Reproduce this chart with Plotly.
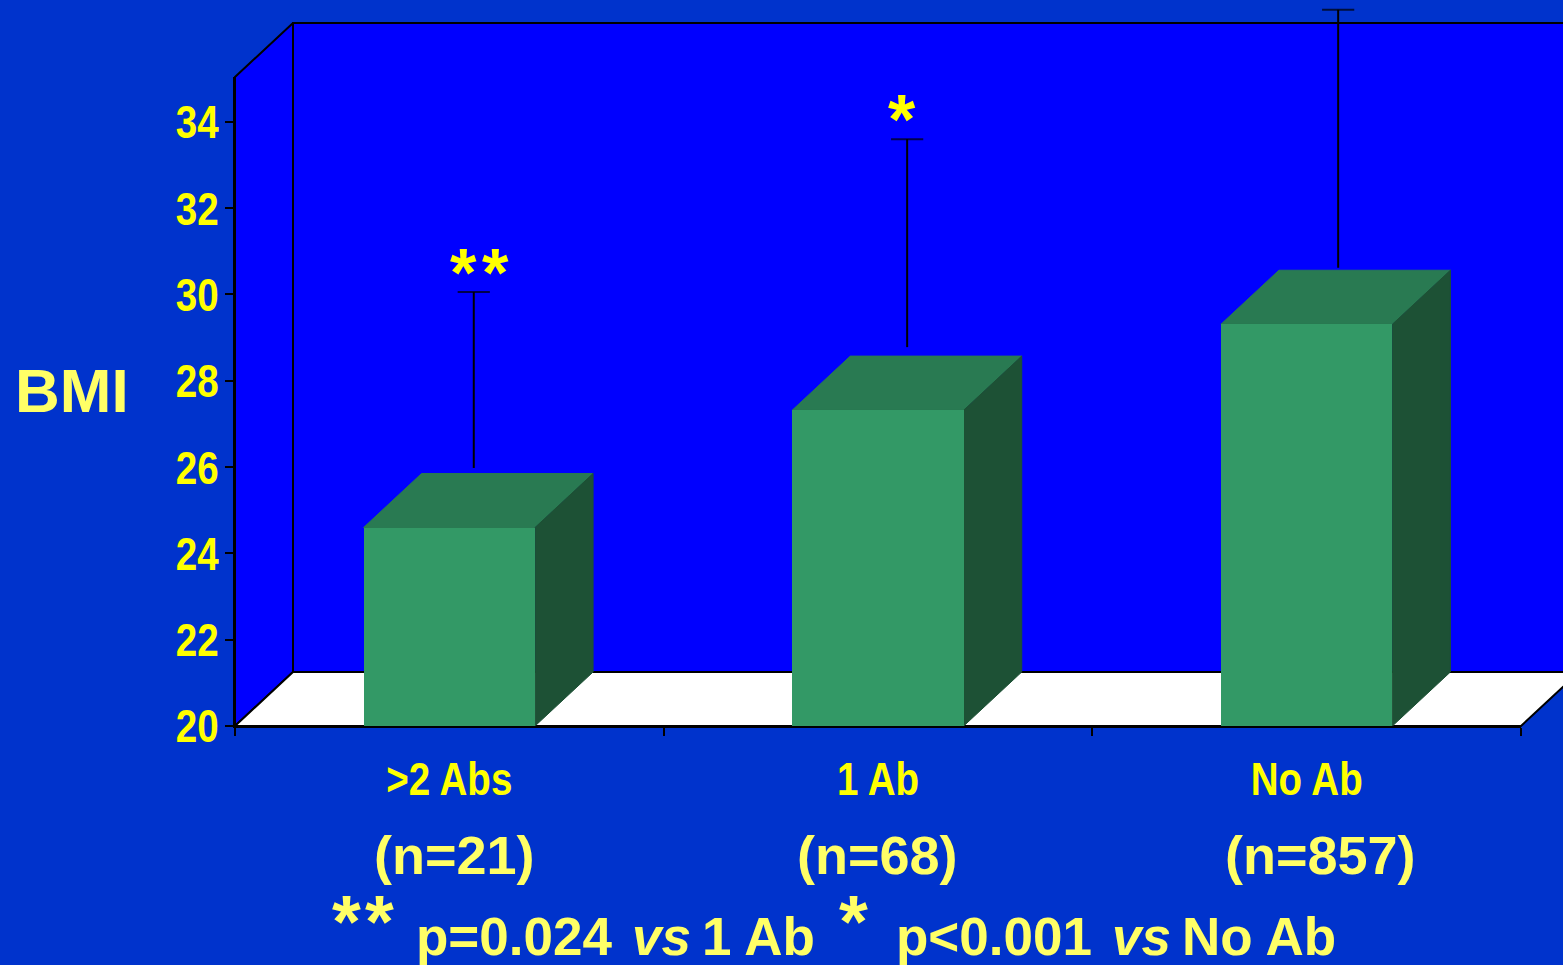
import plotly.graph_objects as go

W, H = 1563, 965

# Data
categories = [">2 Abs", "1 Ab", "No Ab"]
group_sizes = ["(n=21)", "(n=68)", "(n=857)"]
bmi_values = [24.6, 27.32, 29.31]
whisker_x = [0.057, 1.068, 2.0735]
whisker_bottom = [25.98, 28.78, 30.62]
whisker_top = [30.06, 33.6, 36.6]
y_ticks = [20, 22, 24, 26, 28, 30, 32, 34]

# Style / geometry
Y_MIN, Y_MAX = 20, 35.04
BAR_WIDTH = 0.4
DEPTH_X = 58 / 428.67     # in category units
DEPTH_Y = 54 / 43.14      # in BMI units
X_L, X_R = -0.5, 2.5
AX_L, AX_R, AX_B, AX_T = 235, 1521, 726, 77

PAGE = "#0033CC"
WALL = "#0000FF"
FRONT = "#339966"
TOP = "#297A52"
SIDE = "#1D5135"
YEL = "#FFFF00"
PALE = "#FFFF66"
BOLD = "Liberation Sans"

px_per_x = (AX_R - AX_L) / (X_R - X_L)
px_per_y = (AX_B - AX_T) / (Y_MAX - Y_MIN)
full_x = [X_L - AX_L / px_per_x, X_R + (W - AX_R) / px_per_x]
full_y = [Y_MIN - (H - AX_B) / px_per_y, Y_MIN + AX_B / px_per_y]

fig = go.Figure()


def poly(xs, ys, fill, line=None, width=2):
    fig.add_trace(go.Scatter(
        x=xs, y=ys, mode="lines", fill="toself", fillcolor=fill,
        line=dict(color=line or fill, width=width if line else 1),
        hoverinfo="skip", showlegend=False, xaxis="x", yaxis="y"))


# Walls and floor
poly([X_L, X_L, X_L + DEPTH_X, X_L + DEPTH_X, X_L],
     [Y_MIN, Y_MAX, Y_MAX + DEPTH_Y, Y_MIN + DEPTH_Y, Y_MIN], WALL, "black")
poly([X_L + DEPTH_X, X_L + DEPTH_X, X_R + DEPTH_X, X_R + DEPTH_X, X_L + DEPTH_X],
     [Y_MIN + DEPTH_Y, Y_MAX + DEPTH_Y, Y_MAX + DEPTH_Y, Y_MIN + DEPTH_Y, Y_MIN + DEPTH_Y],
     WALL, "black")
poly([X_L, X_L + DEPTH_X, X_R + DEPTH_X, X_R, X_L],
     [Y_MIN, Y_MIN + DEPTH_Y, Y_MIN + DEPTH_Y, Y_MIN, Y_MIN], "white", "black")

# Whiskers
for wx, lo, hi in zip(whisker_x, whisker_bottom, whisker_top):
    fig.add_trace(go.Scatter(
        x=[wx, wx], y=[lo, hi], mode="lines+markers",
        line=dict(color="black", width=2),
        marker=dict(symbol=["line-ew", "line-ew"], size=[0, 23], color="black",
                    line=dict(color="black", width=2)),
        hoverinfo="skip", showlegend=False, xaxis="x", yaxis="y"))

# Depth faces of the bars
half = BAR_WIDTH / 2
for i, v in enumerate(bmi_values):
    l, r = i - half, i + half
    poly([l, l + DEPTH_X, r + DEPTH_X, r, l],
         [v, v + DEPTH_Y, v + DEPTH_Y, v, v], TOP)
    poly([r, r + DEPTH_X, r + DEPTH_X, r, r],
         [Y_MIN, Y_MIN + DEPTH_Y, v + DEPTH_Y, v, Y_MIN], SIDE)

# Front faces, on the visible axes
fig.add_trace(go.Bar(
    x=categories, y=[v - Y_MIN for v in bmi_values], base=Y_MIN, width=BAR_WIDTH,
    marker=dict(color=FRONT, line=dict(width=0)),
    showlegend=False, xaxis="x2", yaxis="y2"))

notes = []


def note(text, px, py, size, color=PALE, anchor="left", family=BOLD):
    notes.append(dict(
        text=text, x=px / W, y=1 - py / H, xref="paper", yref="paper",
        xanchor=anchor, yanchor="middle", showarrow=False, borderpad=0,
        font=dict(family=family, size=size, color=color)))


note("<b>BMI</b>", 72, 391, 62, anchor="center")
for label, cx in zip(group_sizes, [454.5, 877, 1320]):
    note(f"<b>{label}</b>", cx, 855, 54, anchor="center")
note("<b>*</b>", 463, 272, 68, YEL, "center")
note("<b>*</b>", 495, 272, 68, YEL, "center")
note("<b>*</b>", 902, 120, 70, YEL, "center")
note("<b>*</b>", 346.5, 921, 74, anchor="center")
note("<b>*</b>", 379.5, 921, 74, anchor="center")
note("<b>*</b>", 854, 921, 74, anchor="center")
note("<b>p=0.024</b>", 415, 936, 53)
note("<b><i>vs</i></b>", 631, 936, 53)
note("<b>1 Ab</b>", 701, 936, 53)
note("<b>p&lt;0.001</b>", 895, 936, 53)
note("<b><i>vs</i></b>", 1111, 936, 53)
note("<b>No Ab</b>", 1181, 936, 53)

tick_font = dict(family=BOLD, size=47, color=YEL, weight="bold")

fig.update_layout(
    width=W, height=H, autosize=False,
    margin=dict(l=0, r=0, t=0, b=0, autoexpand=False),
    paper_bgcolor=PAGE, plot_bgcolor="rgba(0,0,0,0)",
    showlegend=False, bargap=0, annotations=notes,
    xaxis=dict(domain=[0, 1], range=full_x, visible=False, fixedrange=True),
    yaxis=dict(domain=[0, 1], range=full_y, visible=False, fixedrange=True),
    xaxis2=dict(
        domain=[AX_L / W, AX_R / W], anchor="y2", type="category",
        categoryorder="array", categoryarray=categories, range=[X_L, X_R],
        tickson="boundaries", ticks="outside", ticklen=8, tickwidth=2,
        tickcolor="black", showline=True, linecolor="black", linewidth=2,
        showgrid=False, zeroline=False, ticklabelstandoff=11, tickfont=tick_font),
    yaxis2=dict(
        domain=[1 - AX_B / H, 1 - AX_T / H], anchor="x2", range=[Y_MIN, Y_MAX],
        tickvals=y_ticks, ticks="outside", ticklen=8, tickwidth=2,
        tickcolor="black", showline=True, linecolor="black", linewidth=2,
        showgrid=False, zeroline=False, ticklabelstandoff=-3, tickfont=tick_font),
)

# Page margin off; tick labels condensed like the reference's narrow face
POST = """
document.body.style.margin = '0';
document.documentElement.style.overflow = 'hidden';
var gd = document.getElementById('{plot_id}');
function condense() {
  gd.querySelectorAll('.x2tick text, .y2tick text').forEach(function (t) {
    t.removeAttribute('textLength');
    var w = t.getComputedTextLength();
    t.setAttribute('lengthAdjust', 'spacingAndGlyphs');
    t.setAttribute('textLength', (w * 0.82).toFixed(1));
  });
}
setTimeout(condense, 0);
setTimeout(condense, 200);
"""
fig.write_html("out.html", config={"displayModeBar": False}, post_script=POST)
